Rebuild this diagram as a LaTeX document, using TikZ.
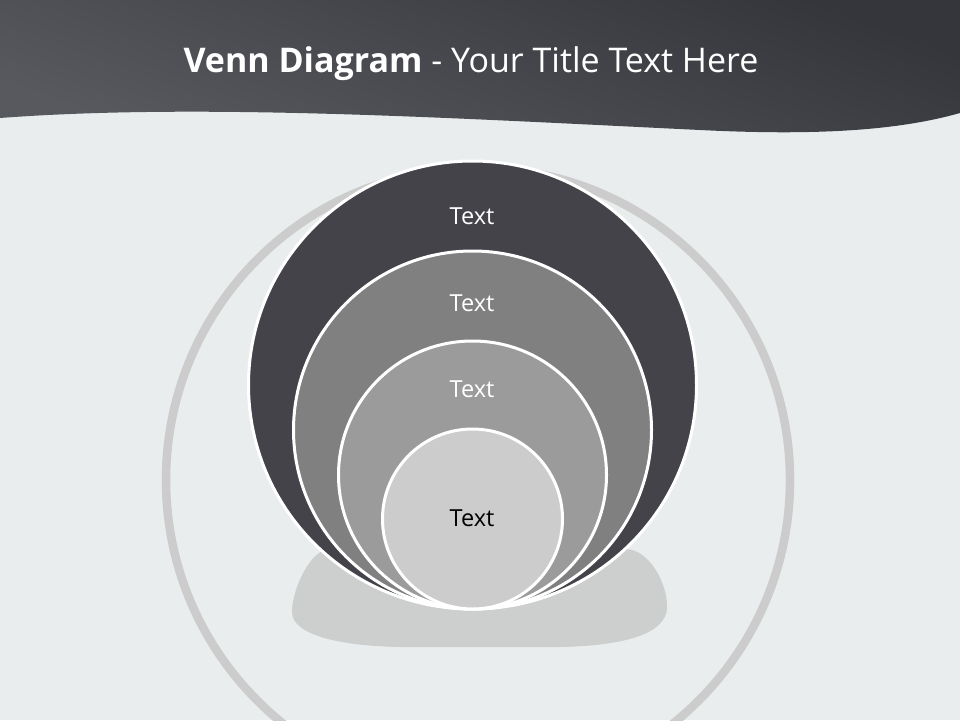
\documentclass[tikz,border=0pt]{standalone}
\usepackage{fontspec}
\setmainfont{Open Sans}
\definecolor{bgc}{HTML}{E9EDED}
\definecolor{hdtop}{HTML}{35363B}
\definecolor{hdbot}{HTML}{58595E}
\definecolor{ringc}{HTML}{CBCCCB}
\definecolor{blobc}{HTML}{CDCFCE}
\definecolor{c1}{HTML}{434349}
\definecolor{c2}{HTML}{808080}
\definecolor{c3}{HTML}{9B9B9B}
\definecolor{c4}{HTML}{CCCCCC}
\tikzset{
  disc/.style={draw=white, line width=3pt},
  lbl/.style={anchor=base, font=\fontsize{23.5}{26}\selectfont, inner sep=0pt},
}
\begin{document}
\begin{tikzpicture}[x=1pt,y=-1pt]
\useasboundingbox (0,0) rectangle (960,720);
\fill[bgc] (0,0) rectangle (960,720);
% header
\shade[top color=hdtop, bottom color=hdbot, shading angle=-20]
  (0,0) -- (960,0) -- (960,113) .. controls (900,130) and (820,136) .. (700,130)
  .. controls (450,118) and (200,103) .. (0,118) -- cycle;
\node[anchor=base, text=white, font=\fontsize{34}{38}\selectfont, inner sep=0pt] (title) at (471,72)
  {\textbf{Venn Diagram} - Your Title Text Here};
% outer ring
\draw[ringc, line width=8.5pt] (478,480) circle (312);
% blob
\fill[blobc] (330,549) -- (625,549) .. controls (650,549) and (668,585) .. (667,608)
  .. controls (666,635) and (620,646) .. (560,647) -- (400,647)
  .. controls (340,646) and (292,635) .. (292,612)
  .. controls (292,590) and (310,549) .. (330,549) -- cycle;
% circles
\fill[c1, disc] (472.5,385) circle (224);
\fill[c2, disc] (472.5,430) circle (179);
\fill[c3, disc] (472.5,475) circle (134);
\fill[c4, disc] (472.5,519) circle (90);
\node[lbl, text=white] (t1) at (472,224) {Text};
\node[lbl, text=white] (t2) at (472,311) {Text};
\node[lbl, text=white] (t3) at (472,397) {Text};
\node[lbl, text=black] (t4) at (472,526) {Text};
\end{tikzpicture}
\end{document}
